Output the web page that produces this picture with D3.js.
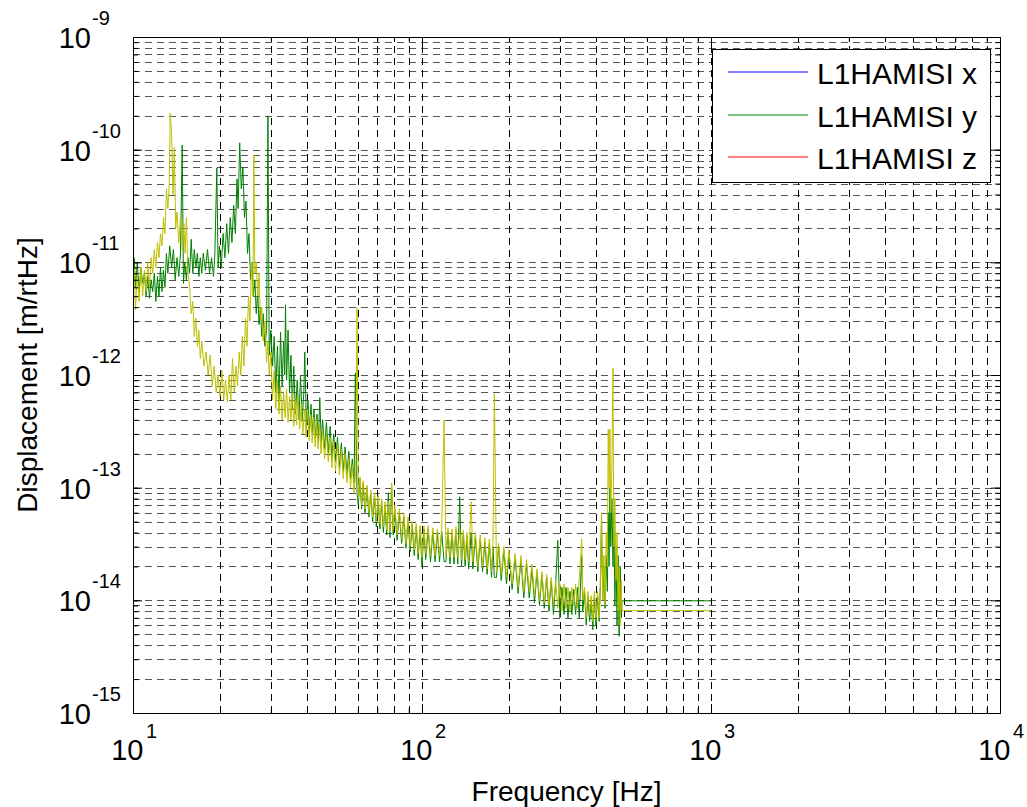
<!DOCTYPE html>
<html>
<head>
<meta charset="utf-8">
<script src="https://cdn.jsdelivr.net/npm/d3@7"></script>
<style>
body { margin: 0; background: #fff; }
text { font-family: "Liberation Sans", Arial, sans-serif; fill: #000; }
</style>
</head>
<body>
<div id="chart"></div>
<script>

// legend entries
var seriesNames = ["L1HAMISI x", "L1HAMISI y", "L1HAMISI z"];

// decade exponents for the tick labels
var xTickExp = [1, 2, 3, 4];
var yTickExp = [-15, -14, -13, -12, -11, -10, -9];

// L1HAMISI y (green trace): [frequency Hz, displacement m/rtHz]
var greenData = [[10.0,7e-12],[10.1,1.1e-11],[10.2,6e-12],[10.35,1e-11],[10.5,5.5e-12],[10.65,9e-12],[10.8,6.5e-12],[10.95,8e-12],[11.1,5e-12],[11.25,7.5e-12],[11.4,4.8e-12],[11.55,7e-12],[11.7,5.5e-12],[11.85,8e-12],[12.0,4.5e-12],[12.15,7.5e-12],[12.3,5e-12],[12.45,9e-12],[12.6,5.5e-12],[12.75,8.5e-12],[12.9,6e-12],[13.05,1.2e-11],[13.2,8e-12],[13.4,1.4e-11],[13.6,9e-12],[13.8,1.3e-11],[14.0,7e-12],[14.2,1.1e-11],[14.4,7.5e-12],[14.6,1.2e-11],[14.8,1.1e-10],[14.95,6.5e-12],[15.1,1e-11],[15.3,7e-12],[15.5,1.1e-11],[15.7,8e-12],[15.9,1.6e-11],[16.1,8e-12],[16.3,1.3e-11],[16.5,9e-12],[16.7,1.2e-11],[16.9,7.5e-12],[17.1,1.1e-11],[17.3,8e-12],[17.5,1.2e-11],[17.8,8.5e-12],[18.1,1.3e-11],[18.4,8e-12],[18.7,1.1e-11],[19.0,7.5e-12],[19.2,1.2e-11],[19.5,6.9e-11],[19.7,9e-12],[19.9,1.4e-11],[20.2,9e-12],[20.5,1.8e-11],[20.8,1.1e-11],[21.1,2.2e-11],[21.4,1.2e-11],[21.7,2.5e-11],[22.0,1.5e-11],[22.3,3.2e-11],[22.6,1.8e-11],[22.9,5.5e-11],[23.1,3e-11],[23.4,1.15e-10],[23.7,4.5e-11],[24.0,7e-11],[24.3,2.5e-11],[24.6,3.5e-11],[24.9,1.2e-11],[25.2,1.8e-11],[25.5,7e-12],[25.8,1e-11],[26.1,5e-12],[26.4,7e-12],[26.7,3.5e-12],[27.0,5.5e-12],[27.3,2.8e-12],[27.6,4e-12],[27.9,2.2e-12],[28.2,3.5e-12],[28.6,1.8e-12],[29.0,2.5e-12],[29.3,2e-10],[29.6,1.5e-12],[30.0,2.5e-12],[30.4,1.2e-12],[30.8,2.2e-12],[31.2,7e-13],[31.6,1.8e-12],[32.0,6e-13],[32.4,2.4e-12],[32.8,8e-13],[33.2,2e-12],[33.5,1e-12],[33.7,4.2e-12],[34.0,9e-13],[34.4,2.5e-12],[34.8,7e-13],[35.2,1.5e-12],[35.6,5e-13],[36.0,1.2e-12],[36.5,4.5e-13],[37.0,9e-13],[37.5,4e-13],[38.0,1e-12],[38.5,4e-13],[39.0,7e-13],[39.3,1.6e-12],[39.8,3.5e-13],[40.3,6e-13],[40.8,3.2e-13],[41.3,5.5e-13],[41.8,3e-13],[42.3,5e-13],[42.8,2.7e-13],[43.3,4.5e-13],[43.8,2.6e-13],[44.3,6.3e-13],[44.8,2.5e-13],[45.3,4e-13],[46,2.2e-13],[46.7,3.8e-13],[47.4,2e-13],[48.1,3.5e-13],[48.8,1.8e-13],[49.5,3e-13],[50.2,1.7e-13],[51,2.8e-13],[51.8,1.5e-13],[52.6,2.5e-13],[53.4,1.4e-13],[54.2,2.3e-13],[55,1.3e-13],[55.8,2.1e-13],[56.6,1.2e-13],[57.4,1.8e-13],[58.2,1.1e-13],[58.8,1.04e-12],[59.6,9e-14],[60.2,7e-14],[61,1.2e-13],[61.8,6.5e-14],[62.6,1.1e-13],[63.5,6e-14],[64.5,1e-13],[65.5,5.5e-14],[66.5,9e-14],[67.5,5e-14],[68.5,8.5e-14],[69.5,4.5e-14],[70.5,8e-14],[71.5,4.3e-14],[72.5,7.5e-14],[73.5,4e-14],[74.5,7e-14],[75.5,3.8e-14],[76.5,9e-14],[77.5,3.6e-14],[78.5,1.05e-13],[79.5,3.8e-14],[80.5,6.5e-14],[82,3.4e-14],[83.5,6e-14],[85,3.2e-14],[86.5,5.5e-14],[88,2.9e-14],[89.5,5e-14],[91,2.7e-14],[92.5,4.7e-14],[94,2.5e-14],[95.5,4.5e-14],[97,2.3e-14],[98.5,4.3e-14],[100,2e-14],[101.5,4.3e-14],[103,2.3e-14],[105,4.3e-14],[107,2.2e-14],[109,4.1e-14],[111,2.2e-14],[113,4e-14],[115,2.2e-14],[117,4.1e-14],[119.2,2.2e-14],[121,2.2e-14],[123,4.1e-14],[125,2.1e-14],[127,4e-14],[129,2.1e-14],[131,4.2e-14],[133,2.1e-14],[135,8.3e-14],[137,2e-14],[139,3.9e-14],[141,2e-14],[143,3.7e-14],[145,1.9e-14],[148,4e-14],[150,1.9e-14],[153,3.7e-14],[156,1.8e-14],[159,3.5e-14],[162,1.8e-14],[165,3.3e-14],[168,1.7e-14],[171,3.2e-14],[174,1.6e-14],[176,3e-14],[178,1.6e-14],[181,1.6e-14],[184,3e-14],[188,1.5e-14],[192,2.8e-14],[196,1.4e-14],[200,2.6e-14],[205,1.25e-14],[210,2.4e-14],[215,1.15e-14],[220,2.3e-14],[225,1.05e-14],[230,2.1e-14],[235,1.05e-14],[240,1.9e-14],[245,9.5e-15],[250,1.8e-14],[255,9e-15],[260,1.7e-14],[265,8.5e-15],[270,1.6e-14],[275,8e-15],[280,1.5e-14],[285,7.5e-15],[290,1.4e-14],[295,3.4e-14],[300,7e-15],[305,1.3e-14],[310,7.5e-15],[315,1.3e-14],[320,7e-15],[325,1.2e-14],[330,7.5e-15],[335,1.25e-14],[340,7.5e-15],[345,1.3e-14],[350,7e-15],[354,1.5e-14],[357,2.5e-14],[360,8e-15],[365,1.2e-14],[370,6e-15],[375,1.1e-14],[380,6.5e-15],[385,1e-14],[390,5.5e-15],[395,1.1e-14],[400,6e-15],[405,1.1e-14],[410,6.5e-15],[414,1.3e-14],[418,5.5e-14],[422,1e-14],[426,2e-14],[430,8.5e-15],[434,2.5e-14],[438,1.2e-14],[441,6e-14],[444,2e-14],[447,1e-13],[450,3e-14],[454,8e-14],[458,2e-14],[461,6e-14],[465,9e-15],[469,3e-14],[473,6e-15],[477,2.5e-14],[481,4.8e-15],[485,2e-14],[489,7e-15],[492,9.9e-15],[1000,9.9e-15]];

// L1HAMISI z (yellow trace), drawn on top
var yellowData = [[10.0,4e-12],[10.1,9e-12],[10.2,3.8e-12],[10.35,8e-12],[10.5,4.5e-12],[10.65,9e-12],[10.8,5e-12],[10.95,8.5e-12],[11.1,5.5e-12],[11.25,1e-11],[11.4,6e-12],[11.55,1.1e-11],[11.7,8e-12],[11.85,1.3e-11],[12.0,9e-12],[12.15,1.5e-11],[12.3,1.1e-11],[12.45,1.8e-11],[12.6,1.4e-11],[12.75,2.5e-11],[12.9,1.8e-11],[13.05,4.5e-11],[13.2,3e-11],[13.35,5e-11],[13.45,2.1e-10],[13.6,1.4e-10],[13.75,4e-11],[13.9,1.05e-10],[14.05,2e-11],[14.2,2.8e-11],[14.4,1.5e-11],[14.6,2.5e-11],[14.8,1.3e-11],[15.0,2.2e-11],[15.15,1.2e-11],[15.3,2.5e-11],[15.5,8e-12],[15.7,6e-12],[15.9,3.5e-12],[16.1,4.5e-12],[16.3,2.2e-12],[16.5,3.2e-12],[16.7,1.8e-12],[16.9,2.5e-12],[17.1,1.4e-12],[17.3,2e-12],[17.6,1.2e-12],[17.9,1.6e-12],[18.2,1e-12],[18.5,1.5e-12],[18.8,8e-13],[19.1,1.2e-12],[19.4,7e-13],[19.7,1e-12],[20.0,6.5e-13],[20.3,1.1e-12],[20.6,6e-13],[20.9,9e-13],[21.2,5.8e-13],[21.5,1e-12],[21.8,6e-13],[22.1,1.4e-12],[22.4,7e-13],[22.7,1.2e-12],[23.0,8e-13],[23.3,1.6e-12],[23.6,1e-12],[23.9,2.2e-12],[24.2,1.2e-12],[24.5,3.2e-12],[24.8,1.8e-12],[25.1,5e-12],[25.4,3e-12],[25.7,1e-11],[26.0,5e-12],[26.2,9e-11],[26.4,8e-12],[26.7,1e-11],[27.0,5e-12],[27.3,8e-12],[27.6,3e-12],[27.9,4e-12],[28.2,2e-12],[28.6,3e-12],[29.0,1.3e-12],[29.3,2e-12],[29.6,1e-12],[30.0,1.6e-12],[30.4,6e-13],[30.8,1.1e-12],[31.2,5e-13],[31.6,9e-13],[32.0,4.5e-13],[32.4,8e-13],[32.8,4e-13],[33.2,7e-13],[33.6,4.2e-13],[34.0,7.5e-13],[34.4,3.8e-13],[34.8,6.5e-13],[35.2,4e-13],[35.6,7e-13],[36.0,3.5e-13],[36.4,6e-13],[36.8,3.6e-13],[37.2,6.5e-13],[37.7,3.3e-13],[38.2,5.5e-13],[38.7,3e-13],[39.2,5e-13],[39.7,2.8e-13],[40.2,5e-13],[40.7,2.6e-13],[41.2,4.5e-13],[41.7,2.5e-13],[42.2,4.2e-13],[42.7,2.3e-13],[43.2,4e-13],[43.7,2.2e-13],[44.2,3.6e-13],[44.7,2e-13],[45.3,3.3e-13],[46,1.8e-13],[46.7,3e-13],[47.4,1.7e-13],[48.1,2.8e-13],[48.8,1.5e-13],[49.5,2.6e-13],[50.2,1.4e-13],[51,2.4e-13],[51.8,1.3e-13],[52.6,2.2e-13],[53.4,1.2e-13],[54.2,2e-13],[55,1.1e-13],[55.8,1.8e-13],[56.6,1e-13],[57.4,1.6e-13],[58.2,9e-14],[59,1.4e-13],[59.6,3.9e-12],[60.2,8e-14],[61,1.25e-13],[61.8,7e-14],[62.6,1.15e-13],[63.5,6.5e-14],[64.5,1.05e-13],[65.5,6e-14],[66.5,9.5e-14],[67.5,5.5e-14],[68.5,9e-14],[69.5,5e-14],[70.5,8.5e-14],[71.5,4.8e-14],[72.5,8e-14],[73.5,4.5e-14],[74.5,7.5e-14],[75.5,4.2e-14],[76.5,7.5e-14],[77.5,4e-14],[78.5,1.1e-13],[79.5,4.2e-14],[80.5,7e-14],[82,3.8e-14],[83.5,6.5e-14],[85,3.5e-14],[86.5,6e-14],[88,3.2e-14],[89.5,5.5e-14],[91,3e-14],[92.5,5e-14],[94,2.8e-14],[95.5,4.8e-14],[97,2.6e-14],[98.5,4.6e-14],[100,2.4e-14],[101.5,4.6e-14],[103,2.6e-14],[105,4.6e-14],[107,2.5e-14],[109,4.4e-14],[111,2.5e-14],[113,4.3e-14],[115,2.5e-14],[117,4.4e-14],[119.2,4e-13],[121,2.5e-14],[123,4.4e-14],[125,2.4e-14],[127,4.3e-14],[129,2.4e-14],[131,4.5e-14],[133,2.4e-14],[135,4.3e-14],[137,2.3e-14],[139,4.2e-14],[141,2.3e-14],[143,4e-14],[145,2.2e-14],[148,7.5e-14],[150,2.2e-14],[153,4e-14],[156,2e-14],[159,3.8e-14],[162,2e-14],[165,3.6e-14],[168,1.9e-14],[171,3.5e-14],[174,1.8e-14],[176,3.2e-14],[178,6.8e-13],[181,1.8e-14],[184,3.2e-14],[188,1.7e-14],[192,3e-14],[196,1.6e-14],[200,2.8e-14],[205,1.4e-14],[210,2.6e-14],[215,1.3e-14],[220,2.5e-14],[225,1.2e-14],[230,2.3e-14],[235,1.2e-14],[240,2.1e-14],[245,1.1e-14],[250,1.9e-14],[255,1e-14],[260,1.8e-14],[265,9.5e-15],[270,1.7e-14],[275,9e-15],[280,1.6e-14],[285,9e-15],[290,1.5e-14],[295,8.5e-15],[300,1.4e-14],[305,8e-15],[310,1.4e-14],[315,8.5e-15],[320,1.3e-14],[325,8e-15],[330,1.3e-14],[335,9e-15],[340,1.4e-14],[345,8.5e-15],[350,1.6e-14],[354,2.4e-14],[357,3.5e-14],[360,1e-14],[365,1.3e-14],[370,7e-15],[375,1.2e-14],[380,7.5e-15],[385,1.1e-14],[390,6.5e-15],[395,1.2e-14],[400,7e-15],[405,1.2e-14],[410,7e-15],[414,1.4e-14],[418,6e-14],[422,1e-14],[426,2.5e-14],[430,9e-15],[434,4e-14],[438,2e-14],[441,3.3e-13],[444,1e-13],[447,3.3e-13],[450,6e-14],[454,1.5e-13],[458,1.15e-12],[461,3e-14],[465,8e-14],[469,1.5e-14],[473,4e-14],[477,8e-15],[481,2e-14],[485,6e-15],[489,1.5e-14],[492,8.1e-15],[1000,8.1e-15]];

var legendColor = ["#0000ff", "#008000", "#ff0000"];

// dimensions and margins
var width = 1027, height = 807;
var margin = { top: 37, right: 27, bottom: 94, left: 133 },
    plot_w = width - margin.left - margin.right,
    plot_h = height - margin.top - margin.bottom;

var svg = d3.select("#chart")
      .append("svg")
      .attr("width", width)
      .attr("height", height);

var g = svg.append("g")
      .attr("transform", "translate(" + margin.left + "," + margin.top + ")");

var x = d3.scaleLog().domain([10, 1e4]).range([0, plot_w]);
var y = d3.scaleLog().domain([1e-15, 1e-9]).range([plot_h, 0]);

// every 1..9 x decade value, for grid and minor ticks
function decadeValues(lo, hi) {
      var out = [];
      for (var e = lo; e < hi; e++) {
            for (var m = 1; m < 10; m++) out.push(m * Math.pow(10, e));
      }
      out.push(Math.pow(10, hi));
      return out;
}
var xAll = decadeValues(1, 4);
var yAll = decadeValues(-15, -9);
var xMajor = xTickExp.map(function (e) { return Math.pow(10, e); });
var yMajor = yTickExp.map(function (e) { return Math.pow(10, e); });

// dashed grid
var grid = g.append("g");
yAll.forEach(function (v) {
      var py = Math.round(y(v)) + 0.5;
      if (py < 1 || py > plot_h - 1) return;
      grid.append("line")
            .attr("x1", 0).attr("x2", plot_w)
            .attr("y1", py).attr("y2", py)
            .attr("stroke", "#555")
            .attr("stroke-dasharray", "7,5");
});
xAll.forEach(function (v) {
      var px = Math.round(x(v)) + 0.5;
      if (px < 1 || px > plot_w - 1) return;
      grid.append("line")
            .attr("x1", px).attr("x2", px)
            .attr("y1", plot_h).attr("y2", 0)
            .attr("stroke", "#000")
            .attr("stroke-dasharray", "7,5");
});

// traces
g.append("clipPath").attr("id", "clip")
      .append("rect").attr("width", plot_w).attr("height", plot_h);

var line = d3.line()
      .x(function (d) { return x(d[0]); })
      .y(function (d) { return y(d[1]); });

g.append("path").datum(greenData)
      .attr("clip-path", "url(#clip)")
      .attr("fill", "none")
      .attr("stroke", "#008000")
      .attr("stroke-width", 1)
      .attr("d", line);

g.append("path").datum(yellowData)
      .attr("clip-path", "url(#clip)")
      .attr("fill", "none")
      .attr("stroke", "#bfbf00")
      .attr("stroke-width", 1)
      .attr("d", line);

// box and inward ticks on all four sides
function tickAxis(make, scale, vals, size) {
      return make(scale).tickValues(vals).tickSize(size).tickSizeOuter(0).tickFormat("");
}
var sides = [
      [d3.axisBottom, x, "translate(0," + plot_h + ")", xAll, xMajor],
      [d3.axisTop, x, "translate(0,0)", xAll, xMajor],
      [d3.axisLeft, y, "translate(0,0)", yAll, yMajor],
      [d3.axisRight, y, "translate(" + plot_w + ",0)", yAll, yMajor]
];
sides.forEach(function (s) {
      g.append("g").attr("transform", s[2]).call(tickAxis(s[0], s[1], s[3], -5));
      g.append("g").attr("transform", s[2]).call(tickAxis(s[0], s[1], s[4], -9));
});
g.selectAll(".domain").attr("stroke", "#000");
g.selectAll(".tick line").attr("stroke", "#000");

// tick labels, 10 with superscript exponent
xTickExp.forEach(function (e) {
      var px = margin.left + x(Math.pow(10, e));
      svg.append("text").attr("x", px + 10.5).attr("y", 760)
            .attr("text-anchor", "end").style("font-size", "29px").text("10");
      svg.append("text").attr("x", px + 13).attr("y", 738)
            .style("font-size", "20px").text(e);
});
yTickExp.forEach(function (e) {
      var py = margin.top + y(Math.pow(10, e));
      svg.append("text").attr("x", 91).attr("y", py + 11)
            .attr("text-anchor", "end").style("font-size", "29px").text("10");
      svg.append("text").attr("x", 92).attr("y", py - 12)
            .style("font-size", "20px").text(e);
});

// axis titles
svg.append("text")
      .attr("x", margin.left + plot_w / 2).attr("y", 801)
      .attr("text-anchor", "middle").style("font-size", "28px")
      .text("Frequency [Hz]");
svg.append("text")
      .attr("transform", "translate(37," + (margin.top + plot_h / 2) + ") rotate(-90)")
      .attr("text-anchor", "middle").style("font-size", "28px")
      .text("Displacement [m/rtHz]");

// legend
var lg = svg.append("g");
lg.append("rect")
      .attr("x", 712.5).attr("y", 49.5)
      .attr("width", 278).attr("height", 133)
      .attr("fill", "#fff").attr("stroke", "#000");
seriesNames.forEach(function (name, i) {
      var ly = Math.round(72 + i * 42.5);
      lg.append("line")
            .attr("x1", 728).attr("x2", 808)
            .attr("y1", ly).attr("y2", ly)
            .attr("stroke", legendColor[i]).attr("stroke-width", 1);
      lg.append("text")
            .attr("x", 817).attr("y", ly + 12)
            .style("font-size", "30px")
            .text(name);
});

</script>
</body>
</html>
